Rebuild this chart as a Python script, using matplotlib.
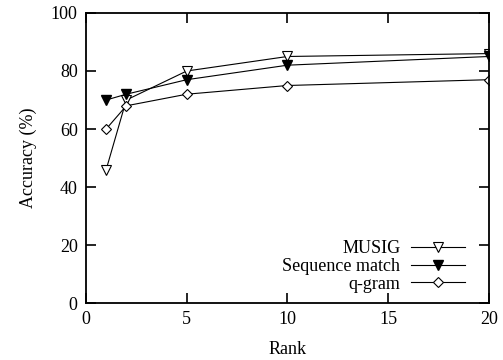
import matplotlib
matplotlib.use("Agg")
import matplotlib.pyplot as plt

plt.rcParams['font.family'] = ['Liberation Serif', 'DejaVu Serif']

rank = [1, 2, 5, 10, 20]
musig = [46, 70, 80, 85, 86]
seq_match = [70, 72, 77, 82, 85]
qgram = [60, 68, 72, 75, 77]

fig = plt.figure(figsize=(5.03, 3.6), dpi=100)
ax = fig.add_axes([0.171, 0.158, 0.801, 0.806])

ax.plot(rank, musig, color='black', lw=0.8, marker='v', ms=6.5,
        mfc='white', mec='black', mew=0.8, label='MUSIG')
ax.plot(rank, seq_match, color='black', lw=0.8, marker='v', ms=6.5,
        mfc='black', mec='black', label='Sequence match')
ax.plot(rank, qgram, color='black', lw=0.8, marker='D', ms=5,
        mfc='white', mec='black', mew=0.8, label='q-gram')

ax.set_xlim(0, 20)
ax.set_ylim(0, 100)
ax.set_xticks([0, 5, 10, 15, 20])
ax.set_yticks([0, 20, 40, 60, 80, 100])
ax.tick_params(direction='in', length=7, width=1.2, labelsize=13,
               top=True, right=True, pad=6)
for s in ax.spines.values():
    s.set_linewidth(1.3)

ax.set_xlabel('Rank', fontsize=13, labelpad=9)
ax.set_ylabel('Accuracy (%)', fontsize=13, labelpad=10)

ax.legend(loc='lower right', frameon=False, markerfirst=False,
          fontsize=13, handlelength=3.0, handletextpad=0.6,
          labelspacing=0.05, borderaxespad=0.3, bbox_to_anchor=(0.973, -0.008))

fig.savefig('out.png', dpi=100)
